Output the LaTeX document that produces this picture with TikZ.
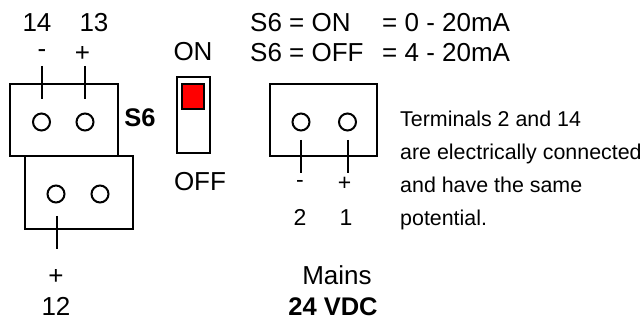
\documentclass[tikz,border=0pt]{standalone}
\usepackage{fontspec}
\setmainfont{Liberation Sans}
\usepackage{tikz}

\tikzset{
    label/.style={inner sep=0pt, font=\fontsize{26}{26}\selectfont},
    small label/.style={inner sep=0pt, font=\fontsize{23}{24}\selectfont},
    bold label/.style={label, font=\fontsize{25.5}{26}\selectfont\bfseries},
    note/.style={inner sep=0pt, anchor=base west, font=\fontsize{21.4}{22}\selectfont},
    pin/.style={circle, draw, line width=2pt, inner sep=0pt, minimum size=17pt},
    box/.style={draw, line width=2pt},
    lead/.style={line width=2pt}
}

\begin{document}
\begin{tikzpicture}[x=1pt, y=-1pt]
    \useasboundingbox (0,0) rectangle (643,320);

    % left terminal blocks
    \draw [box] (10,84) rectangle (118,156.5);
    \draw [box] (24.5,156.5) rectangle (133,229);
    \node [pin] (P14) at (41.5,122) {};
    \node [pin] (P13) at (85,122) {};
    \node [pin] (P12) at (56,194) {};
    \node [pin] (P0) at (100,194) {};

    \node [label] (L14) at (37,22.5) {14};
    \node [label] (L13) at (94,22.5) {13};
    \node [label] (M14) at (42,54) {-};
    \node [label] (M13) at (82.5,54) {+};
    \node [label] (M12) at (56,277) {+};
    \node [label] (L12) at (56,306) {12};
    \node [bold label] (S6) at (140,118) {S6};

    \coordinate (A1) at (42,66);
    \coordinate (A2) at (42,99.5);
    \coordinate (B1) at (85,66);
    \coordinate (B2) at (85,99.5);
    \coordinate (C1) at (56.5,216);
    \coordinate (C2) at (56.5,249.5);
    \draw [lead] (A1) -- (A2);
    \draw [lead] (B1) -- (B2);
    \draw [lead] (C1) -- (C2);

    % switch
    \node [label] (ON) at (193,52) {ON};
    \node [label] (OFF) at (200,182) {OFF};
    \draw [box] (177,77) rectangle (210,153);
    \draw [box, fill=red] (182,84) rectangle (204,109);

    % legend
    \node [label, anchor=base west] (ONtext) at (250,31.5) {S6 = ON};
    \node [label, anchor=base west] (OFFtext) at (250,62) {S6 = OFF};
    \node [label, anchor=base west] (ONval) at (382,31.5) {= 0 - 20mA};
    \node [label, anchor=base west] (OFFval) at (382,62) {= 4 - 20mA};

    % mains terminal block
    \draw [box] (269.5,84) rectangle (376.5,156.5);
    \node [pin] (P2) at (301,122) {};
    \node [pin] (P1) at (347.5,122) {};
    \coordinate (D1) at (300.5,140);
    \coordinate (D2) at (300.5,173.5);
    \coordinate (E1) at (347.5,140);
    \coordinate (E2) at (347.5,173.5);
    \draw [lead] (D1) -- (D2);
    \draw [lead] (E1) -- (E2);

    \node [small label] (M2) at (300,184) {-};
    \node [small label] (M1) at (344.5,184) {+};
    \node [small label] (L2) at (300,217.5) {2};
    \node [small label] (L1) at (346,217.5) {1};
    \node [label] (Mains) at (337,275) {Mains};
    \node [bold label] (VDC) at (333,306.5) {24 VDC};

    % note
    \node [note] (N1) at (400,127) {Terminals 2 and 14};
    \node [note] (N2) at (400,160) {are electrically connected};
    \node [note] (N3) at (400,193) {and have the same};
    \node [note] (N4) at (400,226) {potential.};
\end{tikzpicture}
\end{document}
